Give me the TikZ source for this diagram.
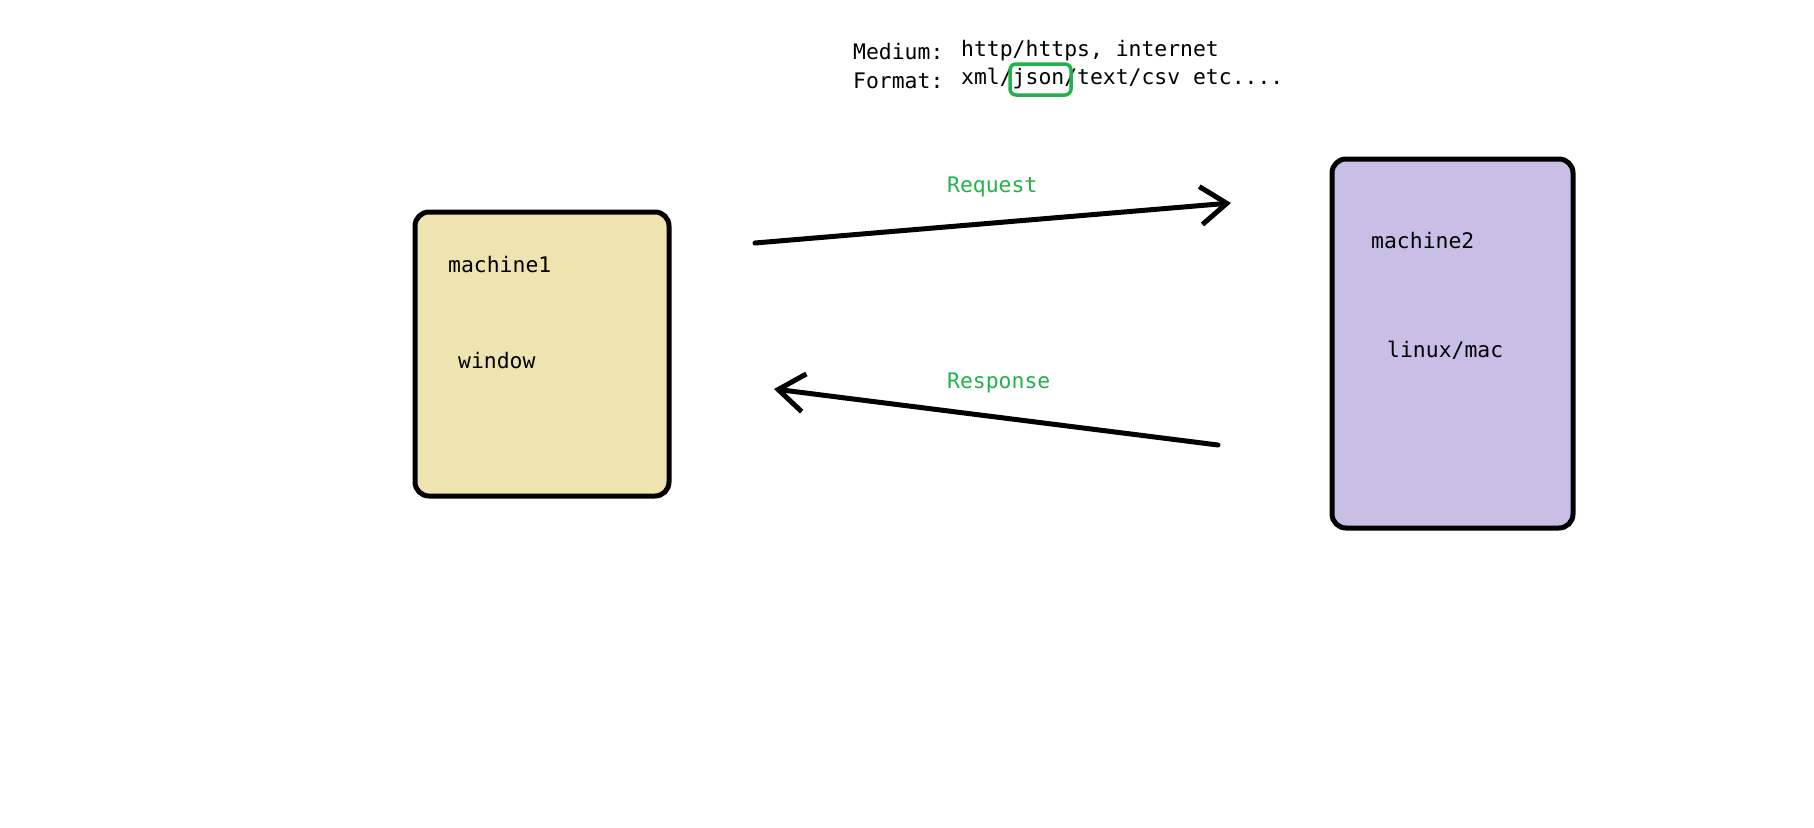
\documentclass[tikz,border=0pt]{standalone}
\usepackage{fontspec}
\setmonofont{DejaVu Sans Mono}
\usetikzlibrary{arrows.meta}
\definecolor{paintyellow}{HTML}{EFE4B0}
\definecolor{paintlilac}{HTML}{C8BFE7}
\definecolor{paintgreen}{HTML}{22B14C}
\tikzset{
  box/.style={draw=black,line width=5pt,rounded corners=14pt},
  txt/.style={anchor=base west,inner sep=0pt,font=\ttfamily\fontsize{21.4}{25}\selectfont},
  msg/.style={line width=5pt,line cap=round,-{Straight Barb[length=26pt,width=38pt]}},
}
\begin{document}
\begin{tikzpicture}[x=1pt,y=-1pt,line join=round]
    \useasboundingbox (0,0) rectangle (1814,827);
    % header
    \node[txt] (medium) at (853,59) {Medium:};
    \node[txt] (format) at (853,88) {Format:};
    \node[txt] (mediumval) at (961,56) {http/https, internet};
    \node[txt] (formatval) at (961,84) {xml/json/text/csv etc....};
    \coordinate (J1) at (1010,64);
    \coordinate (J2) at (1071,95);
    \draw[paintgreen,line width=3.5pt,rounded corners=6pt](J1) rectangle (J2);
    % machines
    \coordinate (A1) at (415,212);
    \coordinate (A2) at (669,496);
    \coordinate (B1) at (1332,159);
    \coordinate (B2) at (1573,528);
    \draw[box,fill=paintyellow](A1) rectangle (A2);
    \draw[box,fill=paintlilac](B1) rectangle (B2);
    \node[txt] (m1) at (448,272) {machine1};
    \node[txt] (os1) at (458,368) {window};
    \node[txt] (m2) at (1371,248) {machine2};
    \node[txt] (os2) at (1387,357) {linux/mac};
    % messages
    \coordinate (P1) at (755,243);
    \coordinate (P2) at (1231,203);
    \coordinate (Q1) at (1218,445);
    \coordinate (Q2) at (774,389);
    \draw[msg](P1)--(P2);
    \draw[msg](Q1)--(Q2);
    \node[txt,text=paintgreen] (req) at (947,192) {Request};
    \node[txt,text=paintgreen] (res) at (947,388) {Response};
\end{tikzpicture}
\end{document}
